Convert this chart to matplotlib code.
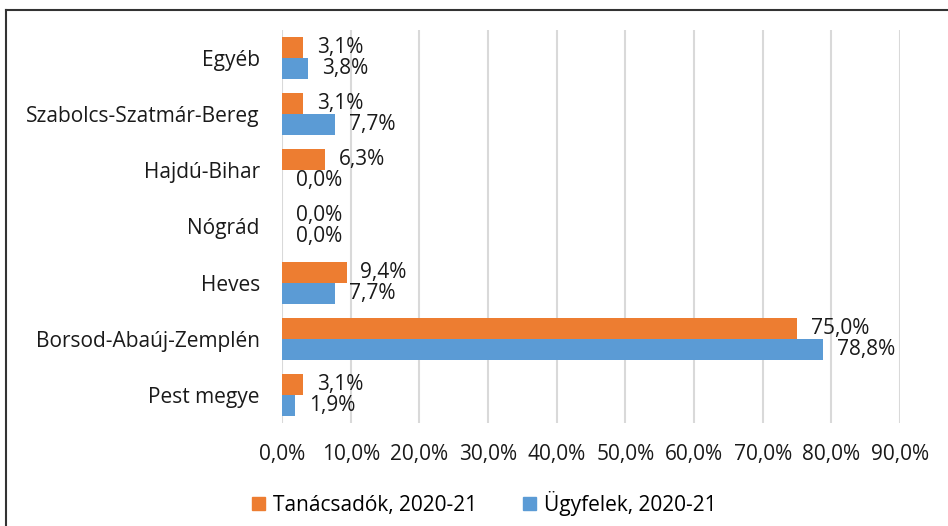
import matplotlib
import matplotlib.pyplot as plt
import numpy as np
from matplotlib.lines import Line2D
from matplotlib.patches import Patch

matplotlib.use('Agg')

categories = ["Pest megye", "Borsod-Abaúj-Zemplén", "Heves", "Nógrád",
              "Hajdú-Bihar", "Szabolcs-Szatmár-Bereg", "Egyéb"]
tanacsadok = [3.1, 75.0, 9.4, 0.0, 6.3, 3.1, 3.1]
ugyfelek = [1.9, 78.8, 7.7, 0.0, 0.0, 7.7, 3.8]
series_names = ["Tanácsadók, 2020-21", "Ügyfelek, 2020-21"]
xticks = list(range(0, 100, 10))


def pct(v):
    return f"{v:.1f}%".replace(".", ",")


def main() -> None:
    plt.rcParams['font.family'] = ['Open Sans', 'DejaVu Sans']
    orange = "#ED7D31"
    blue = "#5B9BD5"
    fs = 15

    fig = plt.figure(figsize=(9.48, 5.26), dpi=100)
    ax = fig.add_axes([0.2975, 0.196, 0.9494 - 0.2975, 0.943 - 0.196])

    y = np.arange(len(categories))
    h = 0.375
    b1 = ax.barh(y + h / 2, tanacsadok, height=h, color=orange,
                 linewidth=0, zorder=3)
    b2 = ax.barh(y - h / 2, ugyfelek, height=h, color=blue,
                 linewidth=0, zorder=3)

    for bars, vals in ((b1, tanacsadok), (b2, ugyfelek)):
        for bar, v in zip(bars, vals):
            ax.annotate(pct(v), (v, bar.get_y() + bar.get_height() / 2),
                        xytext=(10, 0), textcoords="offset points",
                        ha="left", va="center", fontsize=fs, color="#1a1a1a")

    ax.set_xlim(0, 90)
    ax.set_ylim(-0.5, len(categories) - 0.5)
    ax.set_xticks(xticks)
    ax.set_xticklabels([pct(t) for t in xticks], fontsize=fs, color="#1a1a1a")
    ax.set_yticks(y)
    ax.set_yticklabels(categories, fontsize=fs, color="#1a1a1a")
    ax.tick_params(axis="x", length=0, pad=15)
    ax.tick_params(axis="y", length=0, pad=16)
    ax.grid(axis="x", color="#D9D9D9", linewidth=1.5, zorder=0)
    for s in ax.spines.values():
        s.set_visible(False)

    # outer frame (only top and left visible)
    fig.add_artist(Line2D([6 / 948, 6 / 948], [0, 1 - 10 / 526],
                          transform=fig.transFigure, color="#333333", lw=1.5))
    fig.add_artist(Line2D([6 / 948, 1], [1 - 10 / 526, 1 - 10 / 526],
                          transform=fig.transFigure, color="#333333", lw=1.5))

    handles = [Patch(color=orange), Patch(color=blue)]
    fig.legend(handles, series_names, loc="center", ncol=2,
               bbox_to_anchor=(0.511, 1 - 503 / 526), frameon=False,
               fontsize=fs, handlelength=0.6, handleheight=0.6,
               handletextpad=0.4, columnspacing=2.2)

    fig.savefig("out.png", dpi=100)
    return None


if __name__ == "__main__":
    main()
